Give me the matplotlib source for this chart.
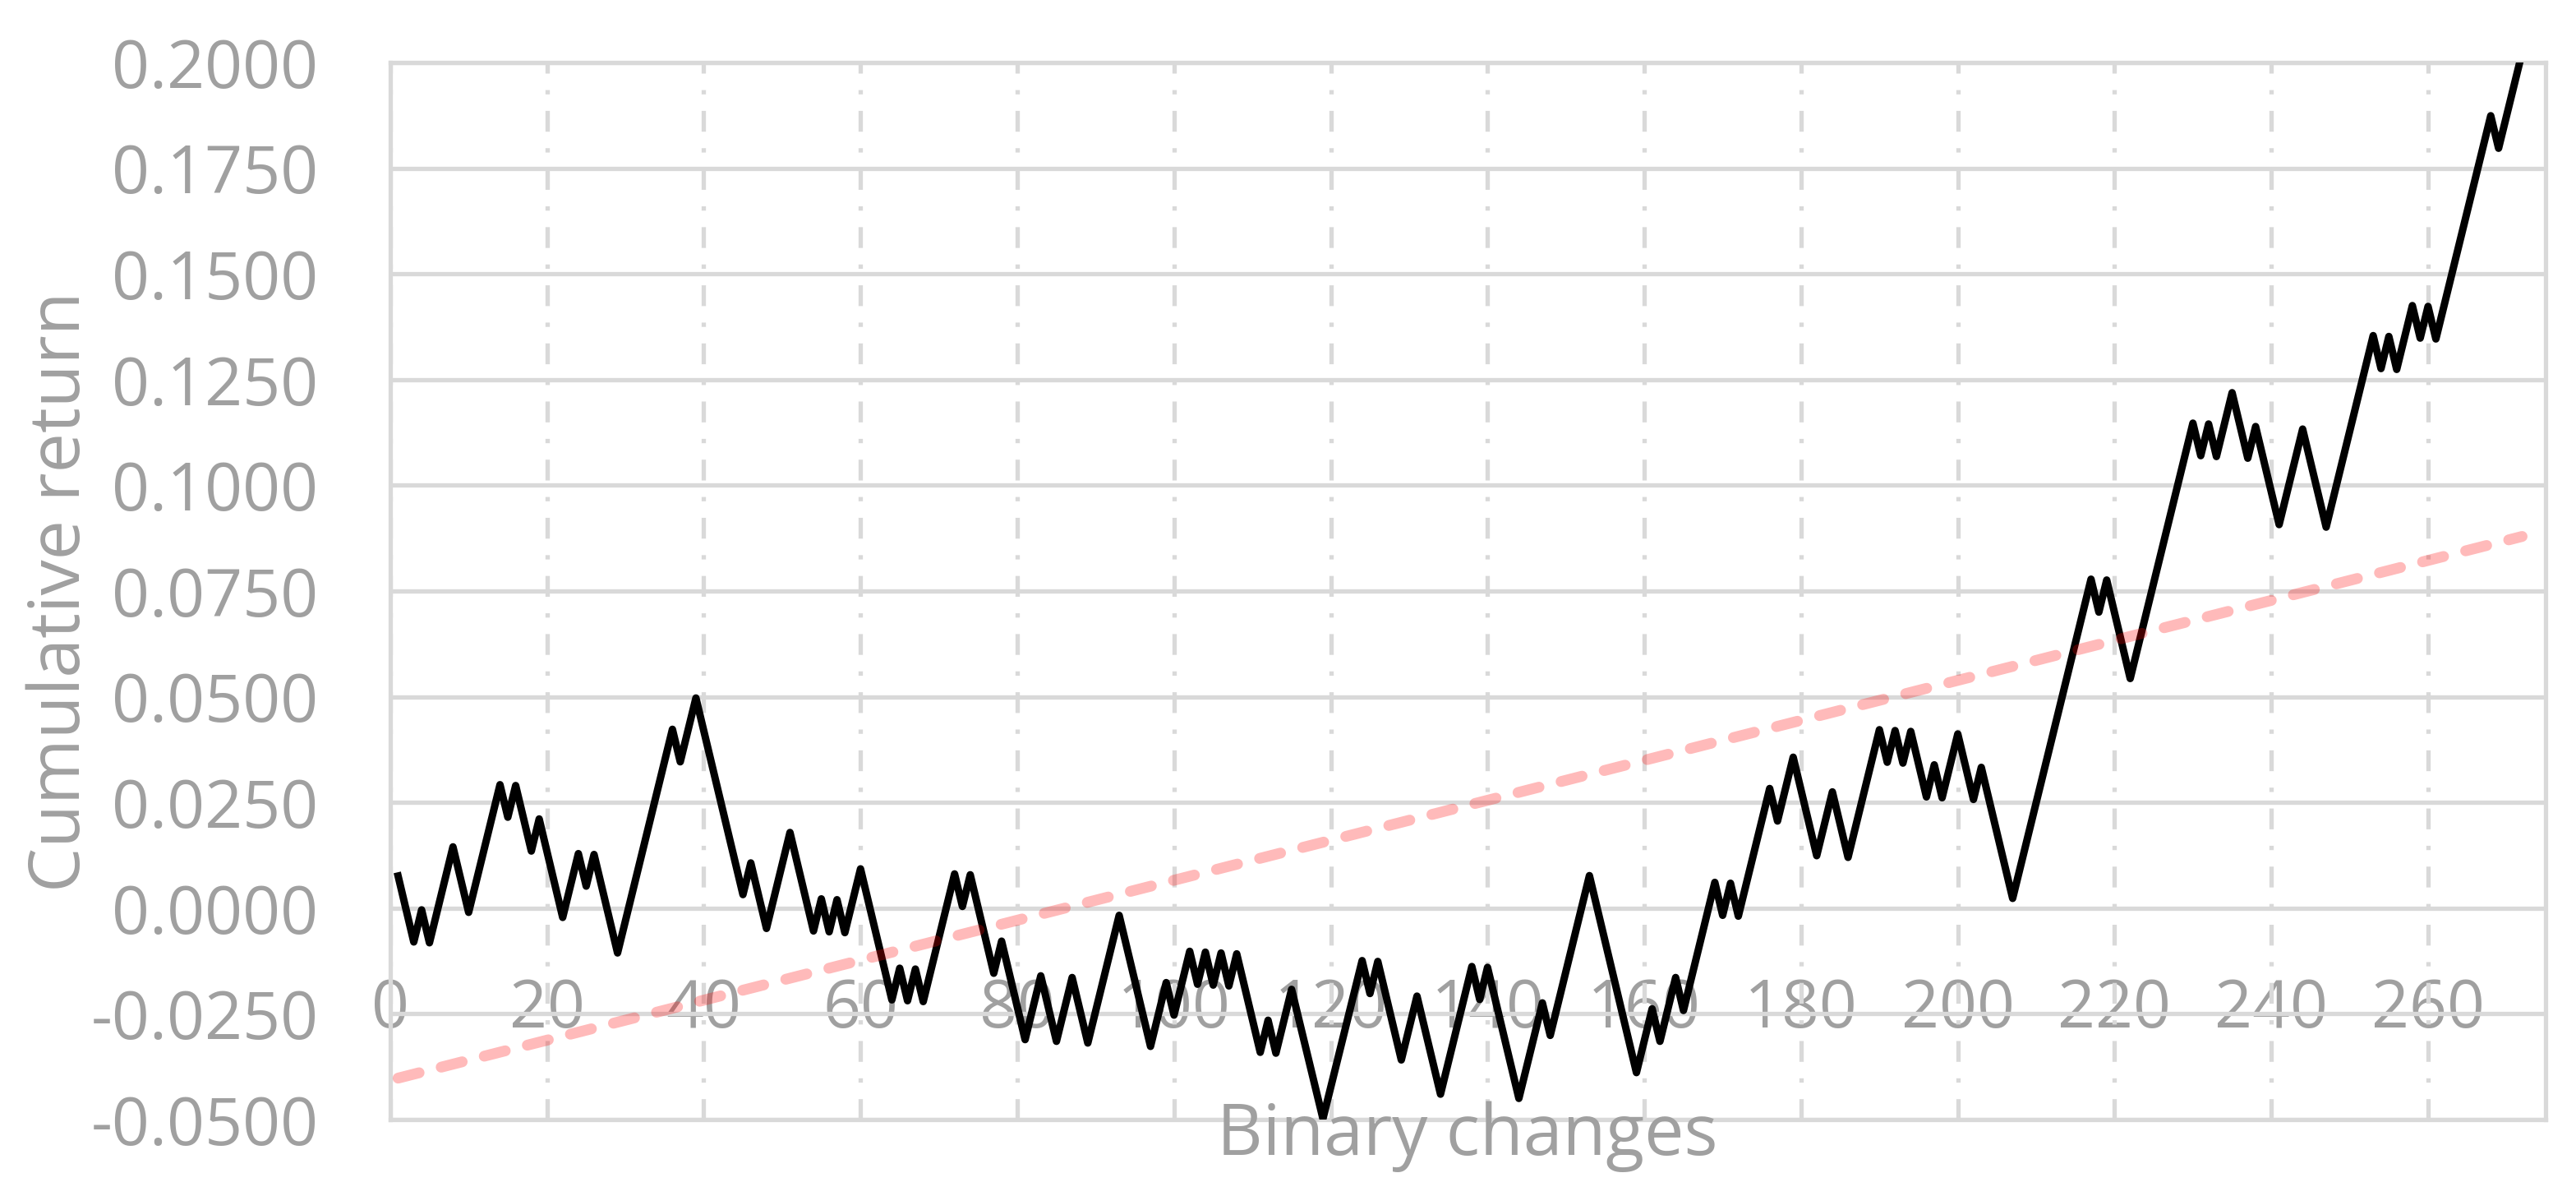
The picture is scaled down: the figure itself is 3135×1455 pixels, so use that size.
import numpy as np
import matplotlib
matplotlib.use("Agg")
import matplotlib.pyplot as plt
from matplotlib.ticker import FuncFormatter

## Data (turning points of the cumulative return path)
walk_x = [1, 3, 4, 5, 8, 10, 14, 15, 16, 18,
          19, 22, 24, 25, 26, 29, 36, 37, 39, 45,
          46, 48, 51, 54, 55, 56, 57, 58, 60, 64,
          65, 66, 67, 68, 72, 73, 74, 77, 78, 81,
          83, 85, 87, 89, 93, 97, 99, 100, 102, 103,
          104, 105, 106, 107, 108, 111, 112, 113, 115, 119,
          124, 125, 126, 129, 131, 134, 138, 139, 140, 144,
          147, 148, 153, 159, 161, 162, 164, 165, 169, 170,
          171, 172, 176, 177, 179, 182, 184, 186, 190, 191,
          192, 193, 194, 196, 197, 198, 200, 202, 203, 207,
          217, 218, 219, 222, 230, 231, 232, 233, 235, 237,
          238, 241, 244, 247, 253, 254, 255, 256, 258, 259,
          260, 261, 268, 269, 272]
walk_y = [0.0076, -0.0080, -0.0004, -0.0082, 0.0145, -0.0010, 0.0292, 0.0215, 0.0290, 0.0135,
          0.0211, -0.0022, 0.0129, 0.0052, 0.0127, -0.0106, 0.0423, 0.0346, 0.0497, 0.0032,
          0.0107, -0.0048, 0.0179, -0.0054, 0.0022, -0.0056, 0.0020, -0.0058, 0.0093, -0.0217,
          -0.0142, -0.0219, -0.0144, -0.0221, 0.0081, 0.0004, 0.0079, -0.0154, -0.0078, -0.0311,
          -0.0160, -0.0315, -0.0164, -0.0319, -0.0017, -0.0327, -0.0176, -0.0253, -0.0102, -0.0180,
          -0.0104, -0.0182, -0.0106, -0.0184, -0.0108, -0.0341, -0.0265, -0.0343, -0.0192, -0.0498,
          -0.0124, -0.0202, -0.0126, -0.0359, -0.0208, -0.0440, -0.0138, -0.0216, -0.0140, -0.0450,
          -0.0224, -0.0301, 0.0077, -0.0389, -0.0238, -0.0315, -0.0164, -0.0242, 0.0061, -0.0017,
          0.0059, -0.0019, 0.0283, 0.0206, 0.0357, 0.0124, 0.0275, 0.0120, 0.0422, 0.0345,
          0.0420, 0.0343, 0.0418, 0.0263, 0.0339, 0.0261, 0.0412, 0.0257, 0.0333, 0.0023,
          0.0778, 0.0700, 0.0776, 0.0543, 0.1147, 0.1070, 0.1145, 0.1068, 0.1219, 0.1064,
          0.1139, 0.0907, 0.1133, 0.0901, 0.1354, 0.1276, 0.1352, 0.1274, 0.1425, 0.1348,
          0.1423, 0.1346, 0.1874, 0.1797, 0.2023]

## Linear trend line (end points)
trend_x = [1, 272]
trend_y = [-0.0402, 0.0879]

## Axis ticks
x_ticks = [0, 20, 40, 60, 80, 100, 120, 140, 160, 180, 200, 220, 240, 260]
y_ticks = [-0.05, -0.025, 0.0, 0.025, 0.05, 0.075, 0.1, 0.125, 0.15, 0.175, 0.2]

x_title = "Binary changes"
y_title = "Cumulative return"

## Style
plt.rcParams['font.family'] = ['Open Sans', 'DejaVu Sans']
plt.rcParams['axes.unicode_minus'] = False
grid_c = '#D9D9D9'
text_c = '#A0A0A0'

fig = plt.figure(figsize=(31.35, 14.55), dpi=100)
ax = fig.add_axes([0.1515, 0.0639, 0.8367, 0.8839])

ax.set_xlim(0, 275)
ax.set_ylim(-0.05, 0.2)

## Grid lines
ax.set_xticks(x_ticks)
ax.set_yticks(y_ticks)
ax.set_axisbelow(True)
ax.yaxis.grid(True, color=grid_c, lw=3.8, ls='-')
ax.xaxis.grid(True, color=grid_c, lw=3.8, ls=(0, (4.8, 3.8, 1.0, 3.8)))
for s in ax.spines.values():
    s.set_color(grid_c)
    s.set_linewidth(3.8)

ax.tick_params(axis='x', length=0, labelbottom=False)
ax.tick_params(axis='y', length=0, pad=63, labelsize=58, labelcolor=text_c)
ax.yaxis.set_major_formatter(FuncFormatter(lambda v, p: '{:.4f}'.format(v)))

## x labels sit below the zero line
sec = ax.secondary_xaxis(0.2)
sec.set_xticks(x_ticks)
sec.tick_params(length=0, pad=60, labelsize=58, labelcolor=text_c)
for s in sec.spines.values():
    s.set_visible(False)

## Series
ax.plot(walk_x, walk_y, color='black', lw=6.5, solid_joinstyle='round', zorder=3)
ax.plot(trend_x, trend_y, color='red', alpha=0.27, lw=9.5, dashes=(2.0, 2.1),
        dash_capstyle='round', zorder=4)

## Titles
fig.text(0.5697, 0.0344, x_title, ha='center', va='baseline', fontsize=62, color=text_c)
fig.text(0.0239, 0.5052, y_title, ha='center', va='center', rotation=90, fontsize=62, color=text_c)

fig.savefig('out.png', dpi=100)
